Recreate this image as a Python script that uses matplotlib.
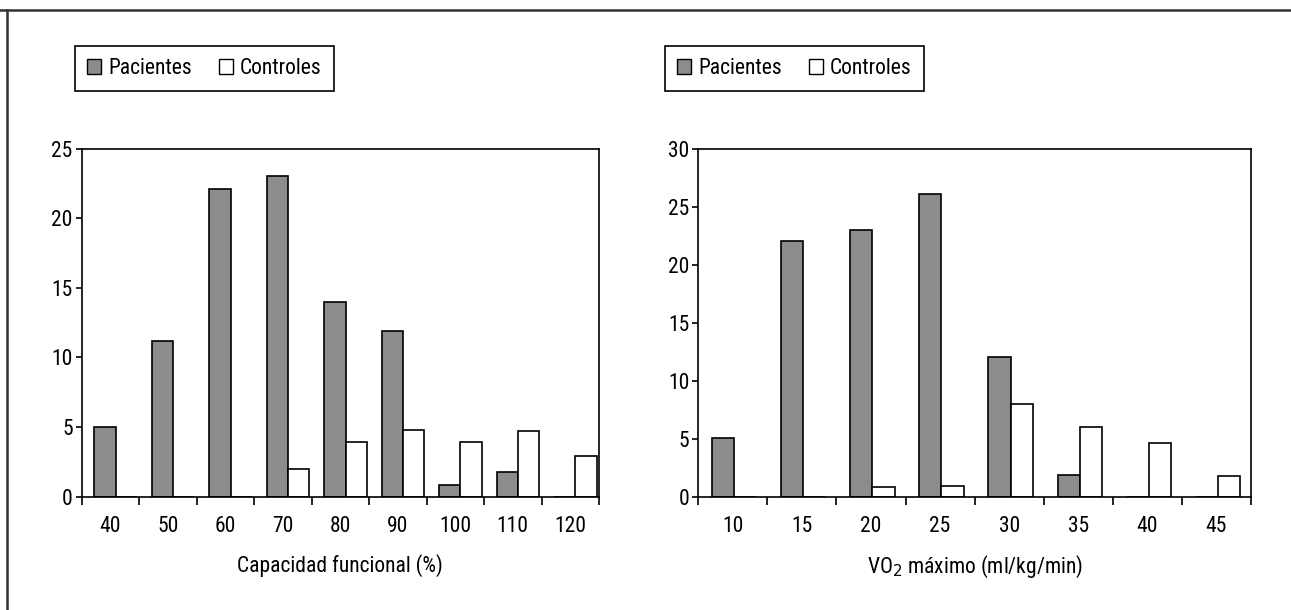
import numpy as np
import matplotlib.pyplot as plt
from matplotlib.patches import Rectangle, Patch
from matplotlib.lines import Line2D

# data
cf_labels = ["40", "50", "60", "70", "80", "90", "100", "110", "120"]
cf_pacientes = [5, 11.15, 22.1, 23, 14, 11.9, 0.85, 1.8, 0]
cf_controles = [0, 0, 0, 2, 3.9, 4.8, 3.9, 4.75, 2.9]

vo2_labels = ["10", "15", "20", "25", "30", "35", "40", "45"]
vo2_pacientes = [5.1, 22, 23, 26.05, 12, 1.85, 0, 0]
vo2_controles = [0, 0, 0.85, 0.95, 8, 6, 4.6, 1.8]

plt.rcParams['font.family'] = ['Liberation Sans Narrow', 'Roboto Condensed',
                               'Liberation Sans', 'DejaVu Sans']
plt.rcParams['font.size'] = 15.5

gray = "#8c8c8c"
W, H = 1291, 610
fig = plt.figure(figsize=(W / 100, H / 100), dpi=100)


def draw_panel(rect, labels, pac, ctl, ymax, bw, shift, xlabel, legend_box):
    ax = fig.add_axes(rect)
    x = np.arange(len(labels))
    ax.bar(x - bw / 2 + shift, pac, bw, color=gray, edgecolor="black", linewidth=1.2)
    ax.bar(x + bw / 2 + shift, ctl, bw, color="white", edgecolor="black", linewidth=1.2)
    ax.set_xlim(-0.5, len(labels) - 0.5)
    ax.set_ylim(0, ymax)
    ax.set_yticks(np.arange(0, ymax + 1, 5))
    ax.set_xticks(x)
    ax.set_xticklabels(labels)
    ax.set_xticks(np.arange(-0.5, len(labels), 1), minor=True)
    ax.tick_params(axis="x", which="major", length=0, pad=14)
    ax.tick_params(axis="x", which="minor", length=5.5, direction="out", width=1.2)
    ax.tick_params(axis="y", length=4.5, direction="out", width=1.2, pad=2)
    for s in ax.spines.values():
        s.set_linewidth(1.2)
    ax.set_xlabel(xlabel, labelpad=12)

    # legend box above the plot
    x0, y0, x1, y1 = legend_box
    fig.patches.append(Rectangle((x0 / W, 1 - y1 / H), (x1 - x0) / W, (y1 - y0) / H,
                                 transform=fig.transFigure, fill=False,
                                 edgecolor="black", linewidth=1.2))
    handles = [Patch(facecolor=gray, edgecolor="black", label="Pacientes"),
               Patch(facecolor="white", edgecolor="black", label="Controles")]
    fig.legend(handles=handles, loc="center",
               bbox_to_anchor=((x0 + x1) / 2 / W, 1 - (y0 + y1) / 2 / H),
               ncol=2, frameon=False, handlelength=0.65, handleheight=0.65,
               handletextpad=0.3, columnspacing=1.3, fontsize=15.5)
    return ax


draw_panel([81.7 / W, 1 - 496.7 / H, 517.3 / W, 348.1 / H], cf_labels, cf_pacientes,
           cf_controles, 25, 0.37, 0.09, "Capacidad funcional (%)", (75, 46, 334, 91))
draw_panel([698.3 / W, 1 - 496.7 / H, 552.7 / W, 348.1 / H], vo2_labels, vo2_pacientes,
           vo2_controles, 30, 0.32, 0.02, "VO$_2$ máximo (ml/kg/min)", (665, 46, 924, 91))

# outer frame lines (top and left)
fig.lines.append(Line2D([0, 1], [1 - 9.5 / H, 1 - 9.5 / H], transform=fig.transFigure,
                        color="#333333", linewidth=1.8))
fig.lines.append(Line2D([7.3 / W, 7.3 / W], [0, 1 - 9.5 / H], transform=fig.transFigure,
                        color="#333333", linewidth=1.8))

fig.savefig("out.png", dpi=100)
